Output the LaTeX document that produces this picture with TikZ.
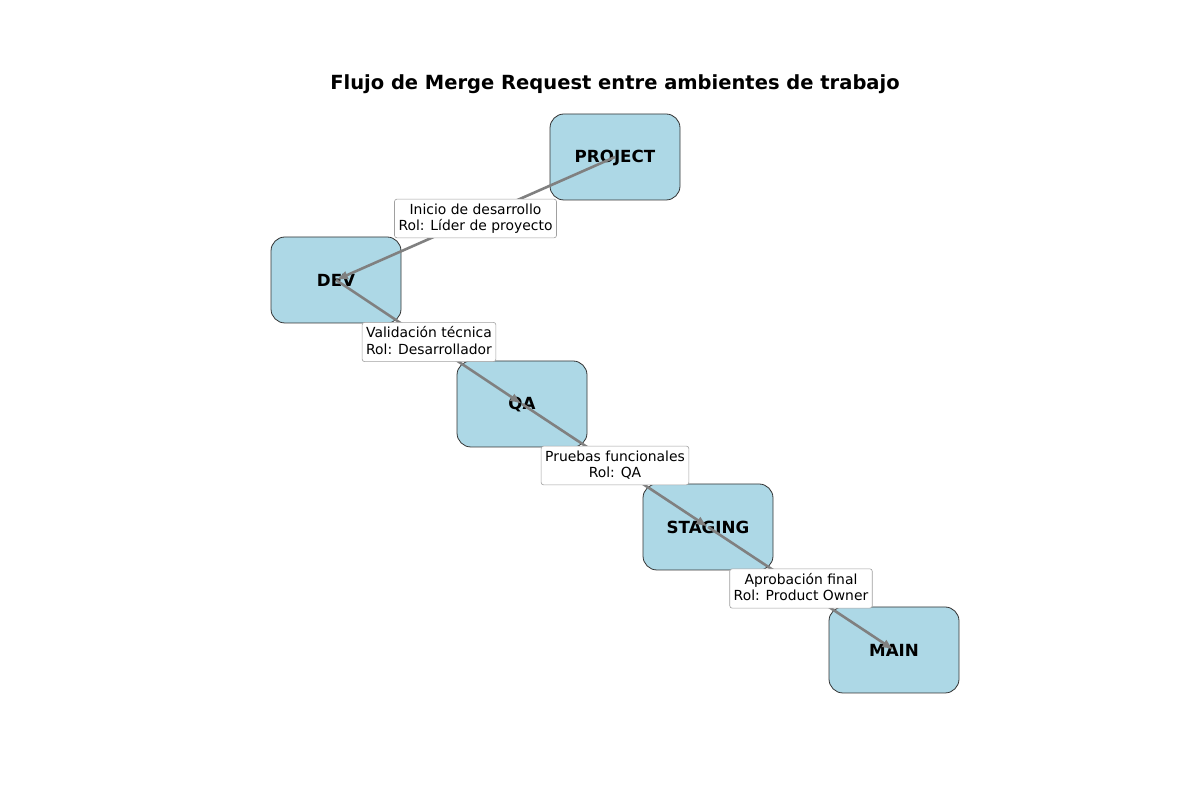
\documentclass[tikz,border=0pt]{standalone}
\usepackage{fontspec}
\setmainfont{DejaVu Sans}
\usetikzlibrary{arrows.meta,calc}
\definecolor{nodeblue}{HTML}{ADD8E6}
\definecolor{edgegray}{HTML}{808080}
\definecolor{lblgray}{HTML}{A0A0A0}
\tikzset{
  envbox/.style={draw=black!80, line width=0.8pt, fill=nodeblue, rounded corners=14pt,
    minimum width=130pt, minimum height=86pt, inner sep=0pt},
  envtext/.style={font=\fontsize{16.7}{20}\selectfont\bfseries, yshift=-0.8pt},
  flow/.style={draw=edgegray, line width=2.6pt, -{Latex[length=12pt,width=9pt]}},
  lbl/.style={draw=lblgray, line width=0.6pt, fill=white, rounded corners=2.5pt, align=center,
    inner xsep=4pt, inner ysep=4.5pt, font=\fontsize{13.9}{16.2}\selectfont},
}
\begin{document}
\begin{tikzpicture}[x=1pt,y=1pt]
\useasboundingbox (0,0) rectangle (1200,800);
\node[font=\fontsize{19.5}{23}\selectfont\bfseries] (title) at (615,716) {Flujo de Merge Request entre ambientes de trabajo};
\node[envbox] (p) at (615,643) {};
\node[envbox] (d) at (336,520) {};
\node[envbox] (q) at (522,396) {};
\node[envbox] (s) at (708,273) {};
\node[envbox] (m) at (894,150) {};
\node[envtext] (pt) at (p.center) {PROJECT};
\node[envtext] (dt) at (d.center) {DEV};
\node[envtext] (qt) at (q.center) {QA};
\node[envtext] (st) at (s.center) {STAGING};
\node[envtext] (mt) at (m.center) {MAIN};
\draw[flow] (p.center) -- (d.center);
\draw[flow] (d.center) -- (q.center);
\draw[flow] (q.center) -- (s.center);
\draw[flow] (s.center) -- (m.center);
\node[lbl, text depth=3pt] (l1) at ($(p.center)!0.5!(d.center)$) {Inicio de desarrollo\\Rol: Líder de proyecto};
\node[lbl, text depth=3pt] (l2) at ($(d.center)!0.5!(q.center)$) {Validación técnica\\Rol: Desarrollador};
\node[lbl, text depth=3pt] (l3) at ($(q.center)!0.5!(s.center)$) {Pruebas funcionales\\Rol: QA};
\node[lbl, text depth=3pt] (l4) at ($(s.center)!0.5!(m.center)$) {Aprobación final\\Rol: Product Owner};
\end{tikzpicture}
\end{document}
